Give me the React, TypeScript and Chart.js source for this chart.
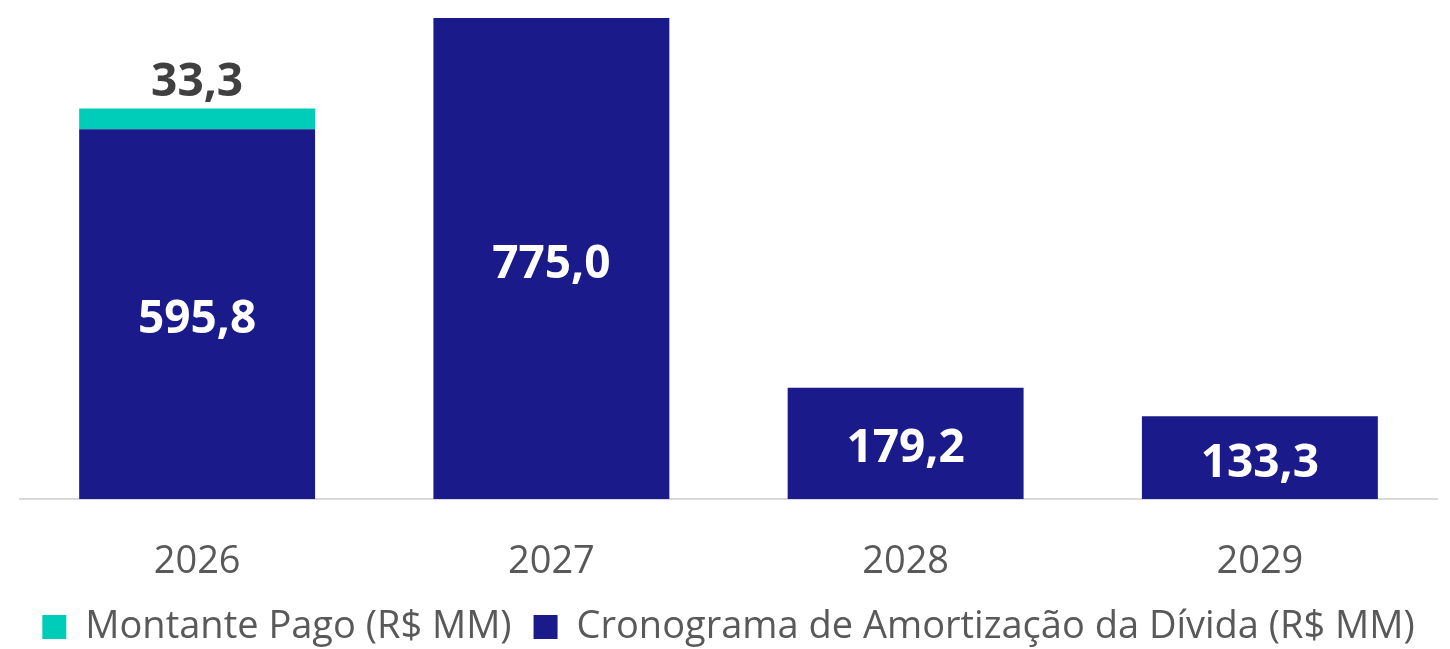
import React, { useEffect, useRef } from "react";
import { Chart, registerables } from "chart.js";

Chart.register(...registerables);

const categories = ["2026", "2027", "2028", "2029"];
const cronograma = [595.8, 775.0, 179.2, 133.3];
const montante = [33.3, null, null, null];
const cronogramaLabel = "Cronograma de Amortização da Dívida (R$ MM)";
const montanteLabel = "Montante Pago (R$ MM)";

const NAVY = "#1A1A8A";
const TEAL = "#00CDB9";
const FONT = "'Open Sans', 'Noto Sans', sans-serif";

const fmt = (v: number) => v.toFixed(1).replace(".", ",");

const labelPlugin = {
  id: "valueLabels",
  afterDatasetsDraw(chart: any) {
    const ctx = chart.ctx;
    ctx.save();
    ctx.textAlign = "center";
    ctx.textBaseline = "alphabetic";
    ctx.font = `bold 46px ${FONT}`;
    chart.data.datasets.forEach((ds: any, di: number) => {
      const meta = chart.getDatasetMeta(di);
      meta.data.forEach((el: any, i: number) => {
        const v = ds.data[i];
        if (v == null) return;
        if (di === 0) {
          ctx.fillStyle = "#FFFFFF";
          const mid = (el.y + el.base) / 2;
          ctx.fillText(fmt(v), el.x, mid + 19);
        } else {
          ctx.fillStyle = "#404040";
          ctx.fillText(fmt(v), el.x, el.y - 13);
        }
      });
    });
    ctx.restore();
  },
};

export default function App() {
  const ref = useRef<HTMLCanvasElement | null>(null);
  useEffect(() => {
    document.body.style.margin = "0";
    const chart = new Chart(ref.current as HTMLCanvasElement, {
      type: "bar",
      data: {
        labels: categories,
        datasets: [
          {
            label: cronogramaLabel,
            data: cronograma,
            backgroundColor: NAVY,
            borderWidth: 0,
            barPercentage: 0.666,
            categoryPercentage: 1,
          },
          {
            label: montanteLabel,
            data: montante as any,
            backgroundColor: TEAL,
            borderWidth: 0,
            barPercentage: 0.666,
            categoryPercentage: 1,
          },
        ],
      },
      options: {
        animation: false,
        responsive: true,
        maintainAspectRatio: false,
        layout: { padding: { left: 20, right: 13, top: 18, bottom: -7 } },
        scales: {
          x: {
            stacked: true,
            grid: { display: false, drawTicks: false },
            border: { display: true, color: "#D9D9D9", width: 2 },
            ticks: {
              color: "#595959",
              font: { family: FONT, size: 38 },
              padding: 40,
            },
            afterFit: (scale: any) => {
              scale.height = 87;
            },
          },
          y: {
            stacked: true,
            display: false,
            min: 0,
            max: 775,
          },
        },
        plugins: {
          legend: {
            position: "bottom",
            reverse: true,
            labels: {
              boxWidth: 24,
              boxHeight: 24,
              color: "#595959",
              font: { family: FONT, size: 38, lineHeight: 1 },
              padding: 22,
            },
          },
          tooltip: { enabled: false },
        },
      },
      plugins: [labelPlugin],
    });
    return () => chart.destroy();
  }, []);
  return (
    <div style={{ position: "fixed", left: 0, top: 0, width: 1450, height: 649 }}>
      <canvas ref={ref} />
    </div>
  );
}
